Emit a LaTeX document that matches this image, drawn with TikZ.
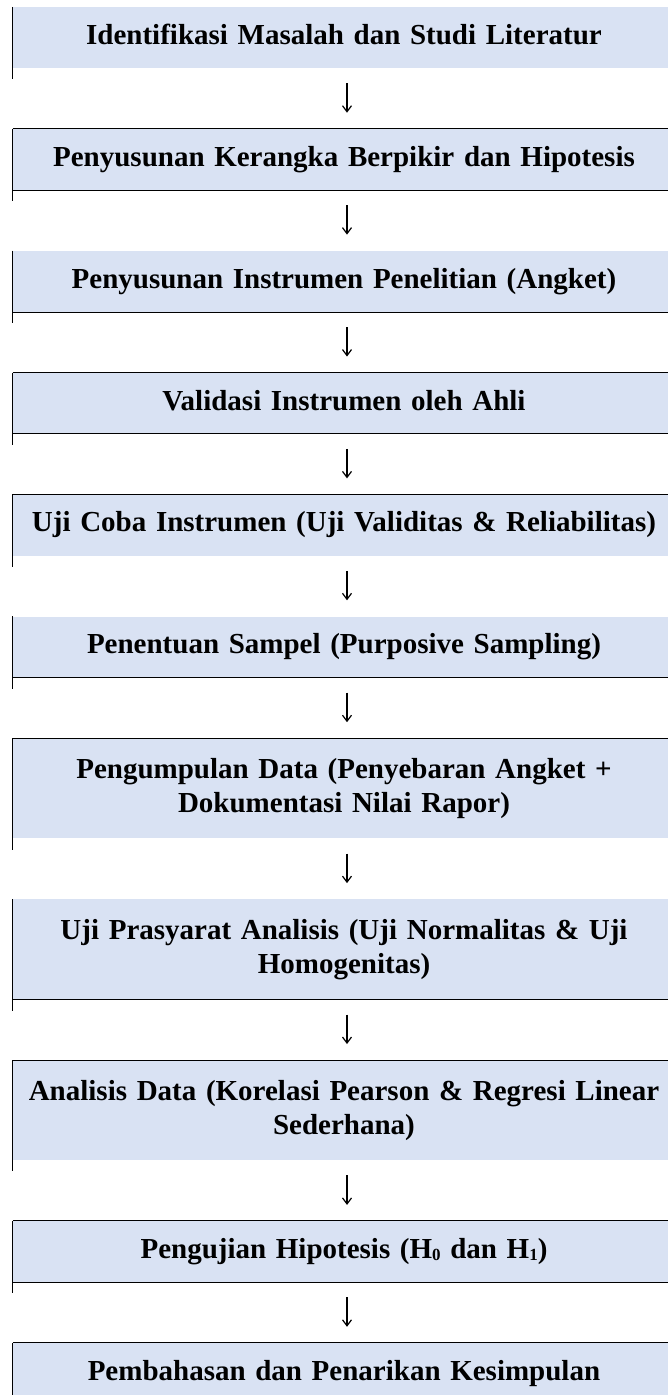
\documentclass[tikz,border=0pt]{standalone}
\usepackage{fontspec}
\setmainfont{Liberation Serif}
\usepackage{tikz}
\usetikzlibrary{arrows.meta}
\usetikzlibrary{positioning}
\definecolor{boxblue}{HTML}{D9E2F3}
\newcommand{\lowdigit}[1]{\raisebox{-2pt}{\fontsize{17}{17}\selectfont #1}}
\tikzset{stepbox/.style = {fill = boxblue, text width = 640pt, align = center,
                           minimum width = 662pt, minimum height = 61pt,
                           inner xsep = 11pt, inner ysep = 0pt,
                           font = \bfseries\fontsize{29}{34}\selectfont,
                           execute at begin node = \strut,
                           execute at end node = \strut}}
\tikzset{tallbox/.style = {stepbox, minimum height = 100pt}}
\tikzset{rule/.style = {line width = 1pt, black}}
\tikzset{flow/.style = {-{Straight Barb[length = 6pt, width = 9pt]}, line width = 1.2pt,
                        shorten <= 15pt, shorten >= 16pt}}

\begin{document}
\begin{tikzpicture}
      \useasboundingbox (0pt, 0pt) rectangle (668pt, -1395pt);

      \node [stepbox] (s1) at (344pt, -37.5pt) {Identifikasi Masalah dan Studi Literatur};
      \node [stepbox, below = 60.5pt of s1] (s2) {Penyusunan Kerangka Berpikir dan Hipotesis};
      \node [stepbox, below = 60.5pt of s2] (s3) {Penyusunan Instrumen Penelitian (Angket)};
      \node [stepbox, below = 60.5pt of s3] (s4) {Validasi Instrumen oleh Ahli};
      \node [stepbox, below = 60.5pt of s4] (s5) {Uji Coba Instrumen (Uji Validitas \& Reliabilitas)};
      \node [stepbox, below = 60.5pt of s5] (s6) {Penentuan Sampel (Purposive Sampling)};
      \node [tallbox, below = 60.5pt of s6] (s7) {Pengumpulan Data (Penyebaran Angket +\\ Dokumentasi Nilai Rapor)};
      \node [tallbox, below = 60.5pt of s7] (s8) {Uji Prasyarat Analisis (Uji Normalitas \& Uji\\ Homogenitas)};
      \node [tallbox, below = 60.5pt of s8] (s9) {Analisis Data (Korelasi Pearson \& Regresi Linear\\ Sederhana)};
      \node [stepbox, below = 60.5pt of s9] (s10) {Pengujian Hipotesis (H\lowdigit{0} dan H\lowdigit{1})};
      \node [stepbox, below = 60.5pt of s10] (s11) {Pembahasan dan Penarikan Kesimpulan};

      % left rules
      \draw [rule] (s1.north west) -- ([yshift = -11pt]s1.south west);
      \draw [rule] (s2.north west) -- ([yshift = -11pt]s2.south west);
      \draw [rule] (s3.north west) -- ([yshift = -11pt]s3.south west);
      \draw [rule] (s4.north west) -- ([yshift = -11pt]s4.south west);
      \draw [rule] (s5.north west) -- ([yshift = -11pt]s5.south west);
      \draw [rule] (s6.north west) -- ([yshift = -11pt]s6.south west);
      \draw [rule] (s7.north west) -- ([yshift = -11pt]s7.south west);
      \draw [rule] (s8.north west) -- ([yshift = -11pt]s8.south west);
      \draw [rule] (s9.north west) -- ([yshift = -11pt]s9.south west);
      \draw [rule] (s10.north west) -- ([yshift = -11pt]s10.south west);
      \draw [rule] (s11.north west) -- (s11.south west);

      % top and bottom rules
      \draw [rule] (s2.north west) -- (s2.north east);
      \draw [rule] (s2.south west) -- (s2.south east);
      \draw [rule] (s3.south west) -- (s3.south east);
      \draw [rule] (s4.north west) -- (s4.north east);
      \draw [rule] (s4.south west) -- (s4.south east);
      \draw [rule] (s5.north west) -- (s5.north east);
      \draw [rule] (s6.south west) -- (s6.south east);
      \draw [rule] (s7.north west) -- (s7.north east);
      \draw [rule] (s8.south west) -- (s8.south east);
      \draw [rule] (s9.north west) -- (s9.north east);
      \draw [rule] (s10.north west) -- (s10.north east);
      \draw [rule] (s10.south west) -- (s10.south east);
      \draw [rule] (s11.north west) -- (s11.north east);

      % arrows
      \draw [flow] ([xshift = 3pt]s1.south) -- ([xshift = 3pt]s2.north);
      \draw [flow] ([xshift = 3pt]s2.south) -- ([xshift = 3pt]s3.north);
      \draw [flow] ([xshift = 3pt]s3.south) -- ([xshift = 3pt]s4.north);
      \draw [flow] ([xshift = 3pt]s4.south) -- ([xshift = 3pt]s5.north);
      \draw [flow] ([xshift = 3pt]s5.south) -- ([xshift = 3pt]s6.north);
      \draw [flow] ([xshift = 3pt]s6.south) -- ([xshift = 3pt]s7.north);
      \draw [flow] ([xshift = 3pt]s7.south) -- ([xshift = 3pt]s8.north);
      \draw [flow] ([xshift = 3pt]s8.south) -- ([xshift = 3pt]s9.north);
      \draw [flow] ([xshift = 3pt]s9.south) -- ([xshift = 3pt]s10.north);
      \draw [flow] ([xshift = 3pt]s10.south) -- ([xshift = 3pt]s11.north);

    \end{tikzpicture}
\end{document}
